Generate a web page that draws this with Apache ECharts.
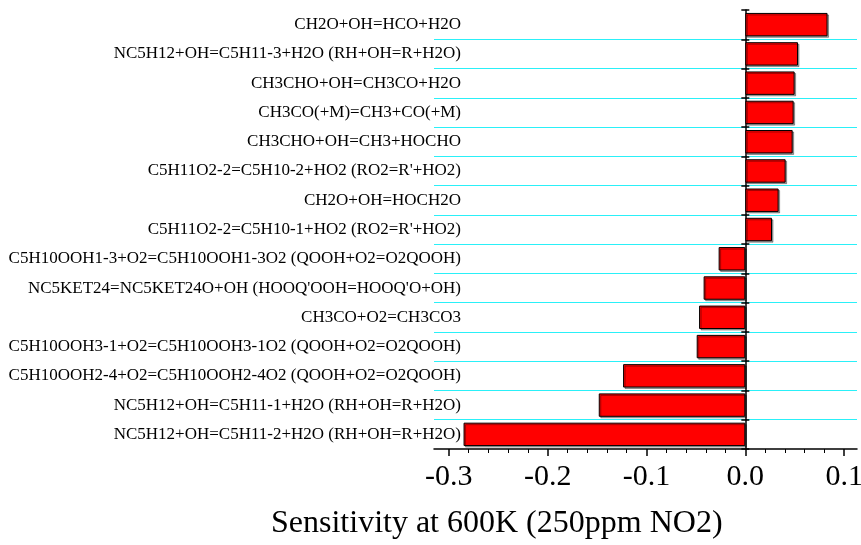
<!DOCTYPE html>
<html>
<head>
<meta charset="utf-8">
<script src="https://cdn.jsdelivr.net/npm/echarts@6/dist/echarts.min.js"></script>
<style>
html,body{margin:0;padding:0;background:#fff;}
#chart{width:861px;height:545px;}
</style>
</head>
<body>
<div id="chart"></div>
<script>
const reactions = [
  "CH2O+OH=HCO+H2O",
  "NC5H12+OH=C5H11-3+H2O (RH+OH=R+H2O)",
  "CH3CHO+OH=CH3CO+H2O",
  "CH3CO(+M)=CH3+CO(+M)",
  "CH3CHO+OH=CH3+HOCHO",
  "C5H11O2-2=C5H10-2+HO2 (RO2=R'+HO2)",
  "CH2O+OH=HOCH2O",
  "C5H11O2-2=C5H10-1+HO2 (RO2=R'+HO2)",
  "C5H10OOH1-3+O2=C5H10OOH1-3O2 (QOOH+O2=O2QOOH)",
  "NC5KET24=NC5KET24O+OH (HOOQ'OOH=HOOQ'O+OH)",
  "CH3CO+O2=CH3CO3",
  "C5H10OOH3-1+O2=C5H10OOH3-1O2 (QOOH+O2=O2QOOH)",
  "C5H10OOH2-4+O2=C5H10OOH2-4O2 (QOOH+O2=O2QOOH)",
  "NC5H12+OH=C5H11-1+H2O (RH+OH=R+H2O)",
  "NC5H12+OH=C5H11-2+H2O (RH+OH=R+H2O)"
];
const sensitivity = [0.0832, 0.0533, 0.0499, 0.0489, 0.0479, 0.0408, 0.0337, 0.0270,
  -0.0270, -0.0422, -0.0468, -0.0492, -0.1237, -0.1483, -0.2851];
const xMajorTicks = [-0.3, -0.2, -0.1, 0.0, 0.1];
const xMinorTicks = [-0.28, -0.26, -0.24, -0.22, -0.18, -0.16, -0.14, -0.12,
  -0.08, -0.06, -0.04, -0.02, 0.02, 0.04, 0.06, 0.08];
const xTitle = "Sensitivity at 600K (250ppm NO2)";

const FONT = "Liberation Serif";
const X_MIN = -0.315, X_MAX = 0.113;
const chart = echarts.init(document.getElementById('chart'));
chart.setOption({
  animation: false,
  backgroundColor: '#fff',
  title: {
    text: xTitle, left: 271, top: 508, padding: 0,
    textStyle: {fontFamily: FONT, fontSize: 32, fontWeight: 'normal', color: '#000'}
  },
  grid: {left: 434, right: 4, top: 10, bottom: 96, containLabel: false, outerBoundsMode: 'none'},
  xAxis: [{
    type: 'value',
    min: X_MIN, max: X_MAX,
    axisLine: {show: true, onZero: false, lineStyle: {color: '#000', width: 1.5}},
    axisTick: {show: true, length: 7, customValues: xMajorTicks, lineStyle: {color: '#000', width: 1.5}},
    minorTick: {show: false},
    splitLine: {show: false},
    axisLabel: {
      fontFamily: FONT, fontSize: 30, color: '#000', margin: 13,
      customValues: xMajorTicks, hideOverlap: false,
      formatter: function (v) { return v.toFixed(1); }
    }
  }, {
    type: 'value',
    position: 'bottom',
    min: X_MIN, max: X_MAX,
    axisLine: {show: false, onZero: false},
    axisTick: {show: true, length: 4, customValues: xMinorTicks, lineStyle: {color: '#000', width: 1}},
    splitLine: {show: false},
    axisLabel: {show: false}
  }],
  yAxis: [{
    type: 'category',
    inverse: true,
    data: reactions,
    axisLine: {show: true, onZero: true, onZeroAxisIndex: 0, lineStyle: {color: '#000', width: 1.5}},
    axisTick: {show: true, length: 4, lineStyle: {color: '#000', width: 1.5}},
    splitLine: {show: true, showMinLine: false, showMaxLine: false, lineStyle: {color: '#2af0f8', width: 1}},
    axisLabel: {fontFamily: FONT, fontSize: 17, color: '#000', margin: -27, interval: 0}
  }, {
    type: 'category',
    inverse: true,
    data: reactions,
    position: 'left',
    axisLine: {show: false, onZero: true, onZeroAxisIndex: 0},
    axisTick: {show: true, inside: true, length: 4, lineStyle: {color: '#000', width: 1.5}},
    splitLine: {show: false},
    axisLabel: {show: false}
  }],
  series: [{
    type: 'bar',
    xAxisIndex: 0,
    yAxisIndex: 0,
    data: sensitivity,
    barCategoryGap: '20%',
    itemStyle: {
      color: '#ff0000', borderColor: '#000', borderWidth: 1,
      shadowColor: 'rgba(0,0,0,0.35)', shadowOffsetX: 1.5, shadowOffsetY: 1.5, shadowBlur: 0
    }
  }]
});
</script>
</body>
</html>
